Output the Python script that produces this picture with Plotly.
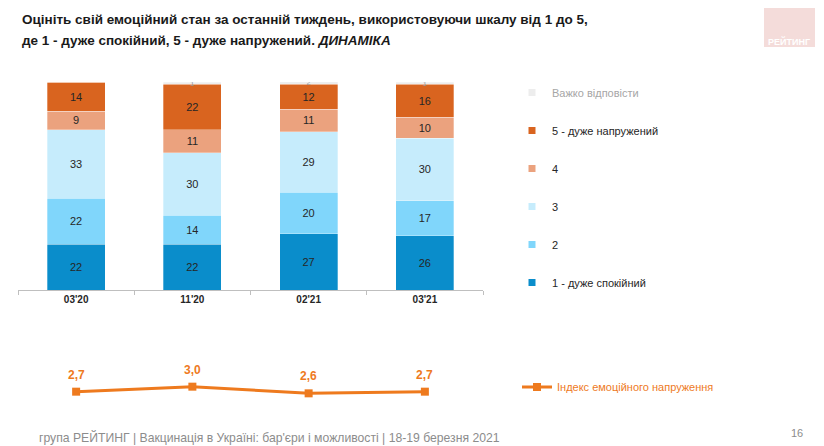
import plotly.graph_objects as go

categories = ["03'20", "11'20", "02'21", "03'21"]
s1 = [22, 22, 27, 26]
s2 = [22, 14, 20, 17]
s3 = [33, 30, 29, 30]
s4 = [9, 11, 11, 10]
s5 = [14, 22, 12, 16]
s_dk = [0, 1, 2, 1]
index_vals = [2.7, 3.0, 2.6, 2.7]
index_labels = ["2,7", "3,0", "2,6", "2,7"]

series_names = ["1 - дуже спокійний", "2", "3", "4", "5 - дуже напружений", "Важко відповісти"]
series_values = [s1, s2, s3, s4, s5, s_dk]
series_colors = ["#0A8DCB", "#80D6FB", "#C6ECFC", "#EBA27E", "#D9641F", "#EDEDED"]
legend_text_colors = ["#262626", "#262626", "#262626", "#262626", "#262626", "#A6A6A6"]
index_name = "Індекс емоційного напруження"
line_color = "#EE7A1E"

title_line1 = "Оцініть свій емоційний стан за останній тиждень, використовуючи шкалу від 1 до 5,"
title_line2 = "де 1 - дуже спокійний, 5 - дуже напружений. <i>ДИНАМІКА</i>"
footer_text = "група РЕЙТИНГ | Вакцинація в Україні: бар'єри і можливості | 18-19 березня 2021"

FONT = "Liberation Sans"
OFF = 8  # page body margin
W, H = 824 - OFF, 446 - OFF

def px(x):
    return (x - OFF) / W

def py(y):
    return 1 - (y - OFF) / H

fig = go.Figure()

n = len(series_names)
for i, (name, vals, col) in enumerate(zip(series_names, series_values, series_colors)):
    is_dk = name == "Важко відповісти"
    fig.add_trace(go.Bar(
        x=categories, y=vals, name=name,
        marker=dict(color=col, line=dict(color="rgba(255,255,255,0.6)", width=0.5)),
        width=0.5,
        text=[(str(v) if v else "") for v in vals],
        textposition="inside",
        insidetextanchor="middle",
        constraintext="none",
        textfont=dict(family=FONT, size=8 if is_dk else 11, color="#9A9A9A" if is_dk else "#262626"),
        textangle=0,
        showlegend=False,
        hoverinfo="skip",
        xaxis="x", yaxis="y",
    ))

# legend entries (small square swatches)
for i, (name, col, tcol) in enumerate(zip(series_names, series_colors, legend_text_colors)):
    fig.add_trace(go.Scatter(
        x=[None], y=[None], name=f'<span style="color:{tcol}">{name}</span>',
        mode="markers",
        marker=dict(symbol="square", size=7, color=col),
        legendgroup=name, legendrank=n - i, legend="legend",
        hoverinfo="skip", xaxis="x", yaxis="y",
    ))

fig.add_trace(go.Scatter(
    x=categories, y=index_vals, name=index_name,
    mode="lines+markers",
    line=dict(color=line_color, width=3),
    marker=dict(symbol="square", size=8, color=line_color),
    legend="legend2",
    hoverinfo="skip",
    xaxis="x2", yaxis="y2",
))

for c, v, lab in zip(categories, index_vals, index_labels):
    fig.add_annotation(x=c, y=v, xref="x2", yref="y2", text="<b>" + lab + "</b>",
                       showarrow=False, yshift=17,
                       font=dict(family=FONT, size=12, color=line_color))

xd = [px(18), px(483)]
fig.update_layout(
    width=W, height=H,
    margin=dict(l=0, r=0, t=0, b=0, autoexpand=False),
    paper_bgcolor="white", plot_bgcolor="white",
    barmode="stack",
    showlegend=True,
    font=dict(family=FONT),
    xaxis=dict(domain=xd, type="category", range=[-0.5, 3.5],
               showline=True, linecolor="#BFBFBF", linewidth=1,
               ticks="outside", tickson="boundaries", ticklen=4, tickcolor="#BFBFBF",
               tickfont=dict(family=FONT, size=10, color="#262626", weight="bold"),
               showgrid=False, zeroline=False, anchor="y", automargin=False),
    yaxis=dict(domain=[py(290), py(82)], range=[0, 100], visible=False, anchor="x", automargin=False),
    xaxis2=dict(domain=xd, type="category", range=[-0.5, 3.5], visible=False, anchor="y2", automargin=False),
    yaxis2=dict(domain=[py(420), py(370)], range=[1, 4], visible=False, anchor="x2", automargin=False),
    legend=dict(x=px(512), y=py(78), xanchor="left", yanchor="top",
                traceorder="grouped", tracegroupgap=19,
                font=dict(family=FONT, size=11, color="#262626"),
                bgcolor="rgba(0,0,0,0)"),
    legend2=dict(x=px(517), y=py(387), xanchor="left", yanchor="middle",
                 font=dict(family=FONT, size=11, color=line_color),
                 bgcolor="rgba(0,0,0,0)"),
)

# Title (two lines)
for txt, yc in ((title_line1, 19), (title_line2, 41)):
    fig.add_annotation(xref="paper", yref="paper", x=px(20), y=py(yc), xanchor="left", yanchor="middle",
                       align="left", showarrow=False, text="<b>" + txt + "</b>",
                       font=dict(family=FONT, size=13.5, color="#1A1A1A"))

# Logo
fig.add_shape(type="rect", xref="paper", yref="paper", x0=px(764), x1=px(815), y0=py(47), y1=py(3),
              fillcolor="#F4DCDA", line=dict(width=0), layer="below")
fig.add_annotation(xref="paper", yref="paper", x=px(789), y=py(42), xanchor="center", yanchor="middle",
                   showarrow=False,
                   text="<b>РЕЙТИНГ</b>", font=dict(family=FONT, size=9, color="#FFFFFF"))

# Footer
fig.add_annotation(xref="paper", yref="paper", x=px(37), y=py(437), xanchor="left", yanchor="middle",
                   showarrow=False, text=footer_text,
                   font=dict(family=FONT, size=12.2, color="#8C8C8C"))
fig.add_annotation(xref="paper", yref="paper", x=px(797), y=py(433), xanchor="center", yanchor="middle",
                   showarrow=False, text="16", font=dict(family=FONT, size=11, color="#8C8C8C"))

fig.write_html("out.html")
